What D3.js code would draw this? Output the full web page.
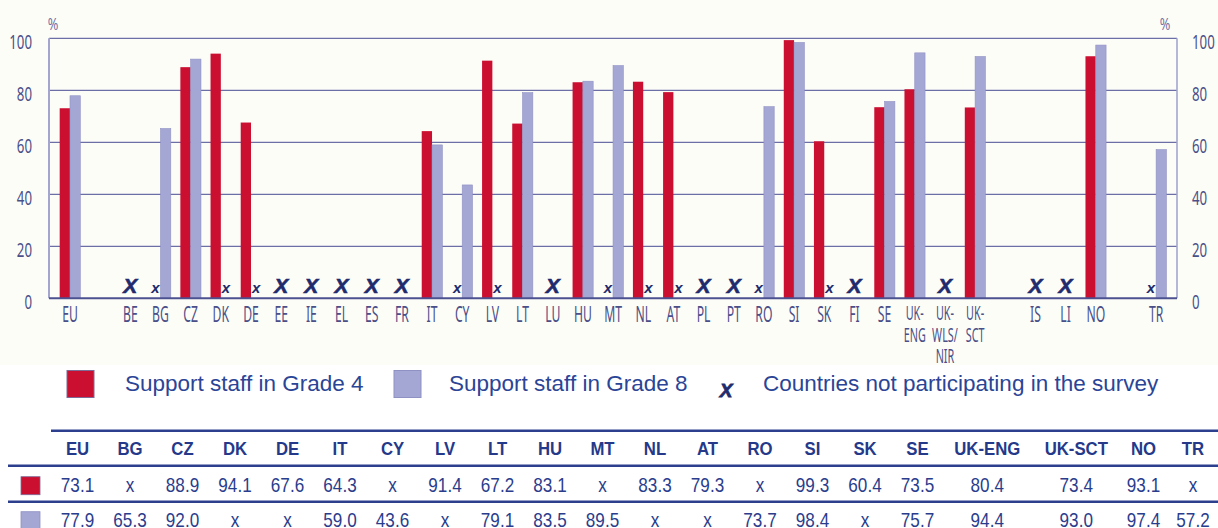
<!DOCTYPE html>
<html>
<head>
<meta charset="utf-8">
<script src="https://cdn.jsdelivr.net/npm/d3@7"></script>
<style>
  html, body { margin: 0; padding: 0; background: #ffffff; }
  svg { display: block; }
</style>
</head>
<body>
<svg id="chart" width="1218" height="528"></svg>
<script>
// ---- data -------------------------------------------------------------
const countries = ["EU","BE","BG","CZ","DK","DE","EE","IE","EL","ES","FR","IT","CY","LV","LT","LU",
  "HU","MT","NL","AT","PL","PT","RO","SI","SK","FI","SE","UK-ENG","UK-WLS/NIR","UK-SCT","IS","LI","NO","TR"];

// Share of pupils with support staff (%); null = no data
const grade4 = [73.1,null,null,88.9,94.1,67.6,null,null,null,null,null,64.3,null,91.4,67.2,null,
  83.1,null,83.3,79.3,null,null,null,99.3,60.4,null,73.5,80.4,null,73.4,null,null,93.1,null];
const grade8 = [77.9,null,65.3,92.0,null,null,null,null,null,null,null,59.0,43.6,null,79.1,null,
  83.5,89.5,null,null,null,null,73.7,98.4,null,null,75.7,94.4,null,93.0,null,null,97.4,57.2];

const notParticipating = ["BE","EE","IE","EL","ES","FR","LU","PL","PT","FI","UK-WLS/NIR","IS","LI"];
// an empty slot follows each of these on the axis
const gapAfter = ["EU","UK-SCT","NO"];

const yTicks = [0, 20, 40, 60, 80, 100];
const seriesNames = ["Support staff in Grade 4", "Support staff in Grade 8"];
const notParticipatingLabel = "Countries not participating in the survey";

// ---- style ------------------------------------------------------------
const RED = "#cb0f31", LILAC = "#a4a6d4", NAVY = "#1f2b6d";
const AXIS_TEXT = "#4a4f88", LEGEND_TEXT = "#2b4596", TABLE_TEXT = "#2a3d8d", RULE = "#2c3f8f";
const CONDENSED = "'Noto Sans', 'Open Sans', sans-serif";
const ARIAL = "'Liberation Sans', Arial, sans-serif";

const svg = d3.select("#chart");

// pale backdrop behind the chart and legend area
svg.append("rect").attr("x", 0).attr("y", 0).attr("width", 1218).attr("height", 365).attr("fill", "#fdfdf8");

const plot = { left: 49, right: 1177, top: 38.3, bottom: 298.3 };

// axis slots (with spacer slots)
const slots = [];
countries.forEach(c => { slots.push(c); if (gapAfter.includes(c)) slots.push("gap:" + c); });

const x = d3.scaleBand().domain(slots).range([plot.left + 5.9, plot.right - 5.8]).padding(0);
const barW = 10.3;
const x1 = d3.scaleBand().domain(["g4", "g8"])
  .range([x.bandwidth() / 2 - barW, x.bandwidth() / 2 + barW]).padding(0);
const y = d3.scaleLinear().domain([0, 100]).range([plot.bottom, plot.top]);

// gridlines
svg.append("g").selectAll("line").data(yTicks.filter(t => t > 0)).join("line")
  .attr("x1", plot.left).attr("x2", plot.right)
  .attr("y1", d => y(d)).attr("y2", d => y(d))
  .attr("stroke", "#6b6fa6").attr("stroke-width", 1.2);

// frame sides
svg.append("line").attr("x1", plot.left).attr("x2", plot.left).attr("y1", plot.top).attr("y2", plot.bottom)
  .attr("stroke", "#a3a5cf").attr("stroke-width", 2);
svg.append("line").attr("x1", plot.right).attr("x2", plot.right).attr("y1", plot.top).attr("y2", plot.bottom)
  .attr("stroke", "#a3a5cf").attr("stroke-width", 1.6);

// condensed text helper
function placeText(sel, fx, fy, sx) {
  sel.attr("x", 0).attr("y", 0)
    .attr("transform", (d, i) => `translate(${fx(d, i)},${fy(d, i)}) scale(${sx},1)`);
  return sel;
}

// y tick labels, both sides
[["end", 32], ["start", 1192]].forEach(([anchor, xp]) => {
  svg.append("g").selectAll("text").data(yTicks).join("text")
    .text(d => d)
    .attr("text-anchor", anchor)
    .attr("font-family", CONDENSED).attr("font-size", 19.5).attr("fill", AXIS_TEXT)
    .call(placeText, () => xp, d => y(d) + 10.5, 0.68);
});
// unit labels
[["middle", 53], ["middle", 1165]].forEach(([anchor, xp]) => {
  svg.append("text").text("%")
    .attr("text-anchor", anchor)
    .attr("font-family", CONDENSED).attr("font-size", 17).attr("fill", "#6d71a8")
    .call(placeText, () => xp, () => 30, 0.75);
});

// bars
const rows = countries.map((c, i) => ({ c, g4: grade4[i], g8: grade8[i], np: notParticipating.includes(c) }));

const bars = svg.append("g");
bars.selectAll("rect.g4").data(rows.filter(d => d.g4 != null)).join("rect")
  .attr("class", "g4")
  .attr("x", d => x(d.c) + x1("g4")).attr("width", x1.bandwidth())
  .attr("y", d => y(d.g4)).attr("height", d => y(0) - y(d.g4))
  .attr("fill", RED);
bars.selectAll("rect.g8").data(rows.filter(d => d.g8 != null)).join("rect")
  .attr("class", "g8")
  .attr("x", d => x(d.c) + x1("g8")).attr("width", x1.bandwidth())
  .attr("y", d => y(d.g8)).attr("height", d => y(0) - y(d.g8))
  .attr("fill", LILAC).attr("stroke", "#9092c4").attr("stroke-width", 0.6);

// baseline
svg.append("line").attr("x1", plot.left).attr("x2", plot.right).attr("y1", y(0)).attr("y2", y(0))
  .attr("stroke", "#4c5190").attr("stroke-width", 2);

// missing-value marks
const missing = [];
rows.filter(d => !d.np).forEach(d => {
  if (d.g4 == null) missing.push({ c: d.c, k: "g4" });
  if (d.g8 == null) missing.push({ c: d.c, k: "g8" });
});
svg.append("g").selectAll("text").data(missing).join("text")
  .text("x")
  .attr("x", d => x(d.c) + x1(d.k) + x1.bandwidth() / 2)
  .attr("y", 293)
  .attr("text-anchor", "middle")
  .attr("font-family", ARIAL).attr("font-weight", "bold").attr("font-style", "italic")
  .attr("font-size", 15).attr("fill", NAVY);

// non-participating marks
svg.append("g").selectAll("text").data(rows.filter(d => d.np)).join("text")
  .text("X")
  .attr("x", d => x(d.c) + x.bandwidth() / 2)
  .attr("y", 293)
  .attr("text-anchor", "middle")
  .attr("font-family", ARIAL).attr("font-weight", "bold").attr("font-style", "italic")
  .attr("font-size", 21).attr("fill", NAVY)
  .attr("stroke", NAVY).attr("stroke-width", 0.6);

// country labels (split after hyphen / slash)
const xl = svg.append("g");
countries.forEach(c => {
  const parts = c.split(/(?<=[-\/])/);
  const multi = parts.length > 1;
  const cx = x(c) + x.bandwidth() / 2;
  const base = multi ? 320 : 322;
  parts.forEach((p, j) => {
    xl.append("text").text(p)
      .attr("text-anchor", "middle")
      .attr("font-family", CONDENSED).attr("font-size", multi ? 20 : 21).attr("fill", AXIS_TEXT)
      .call(placeText, () => cx, () => base + j * 21.5, multi ? 0.54 : 0.58);
  });
});

// ---- legend -----------------------------------------------------------
const legend = svg.append("g");
legend.append("rect").attr("x", 67).attr("y", 370.5).attr("width", 27).attr("height", 27)
  .attr("fill", RED).attr("stroke", "#7d6a96").attr("stroke-width", 1);
legend.append("text").text(seriesNames[0]).attr("x", 125).attr("y", 391)
  .attr("font-family", ARIAL).attr("font-size", 22.5).attr("fill", LEGEND_TEXT);
legend.append("rect").attr("x", 394).attr("y", 370.5).attr("width", 27).attr("height", 27)
  .attr("fill", LILAC).attr("stroke", "#8f91c2").attr("stroke-width", 1);
legend.append("text").text(seriesNames[1]).attr("x", 449).attr("y", 391)
  .attr("font-family", ARIAL).attr("font-size", 22.5).attr("fill", LEGEND_TEXT);
legend.append("text").text("X").attr("x", 726).attr("y", 397).attr("text-anchor", "middle")
  .attr("font-family", ARIAL).attr("font-weight", "bold").attr("font-style", "italic")
  .attr("font-size", 19).attr("fill", NAVY).attr("stroke", NAVY).attr("stroke-width", 0.8);
legend.append("text").text(notParticipatingLabel).attr("x", 763).attr("y", 391)
  .attr("font-family", ARIAL).attr("font-size", 22.5).attr("fill", LEGEND_TEXT);

// ---- data table -------------------------------------------------------
const tableRows = rows.filter(d => !d.np);
const colWidth = { "UK-ENG": 87, "UK-SCT": 91, "NO": 43.5, "TR": 55.5 };
let cursor = 51.25;
tableRows.forEach(d => {
  const w = colWidth[d.c] || 52.5;
  d.tx = cursor + w / 2;
  cursor += w;
});

const table = svg.append("g");
[[51, 430.7], [8, 465.7], [8, 501.7]].forEach(([x0, yy]) => {
  table.append("line").attr("x1", x0).attr("x2", 1218).attr("y1", yy).attr("y2", yy)
    .attr("stroke", RULE).attr("stroke-width", 2.5);
});

const fmt = v => v == null ? "x" : v.toFixed(1);

table.selectAll("text.head").data(tableRows).join("text").attr("class", "head")
  .text(d => d.c)
  .attr("text-anchor", "middle")
  .attr("font-family", ARIAL).attr("font-weight", "bold").attr("font-size", 18.6).attr("fill", "#24398a")
  .call(placeText, d => d.tx, () => 455, 0.9);

[["g4", 491.7, RED, "#7d6a96"], ["g8", 526.7, LILAC, "#8f91c2"]].forEach(([k, base, col, edge]) => {
  table.append("rect").attr("x", 21).attr("y", base - 15).attr("width", 19).attr("height", 18)
    .attr("fill", col).attr("stroke", edge).attr("stroke-width", 0.8);
  table.append("g").selectAll("text").data(tableRows).join("text")
    .text(d => fmt(d[k]))
    .attr("text-anchor", "middle")
    .attr("font-family", ARIAL).attr("font-size", 21).attr("fill", TABLE_TEXT)
    .call(placeText, d => d.tx, () => base, 0.815);
});
</script>
</body>
</html>
